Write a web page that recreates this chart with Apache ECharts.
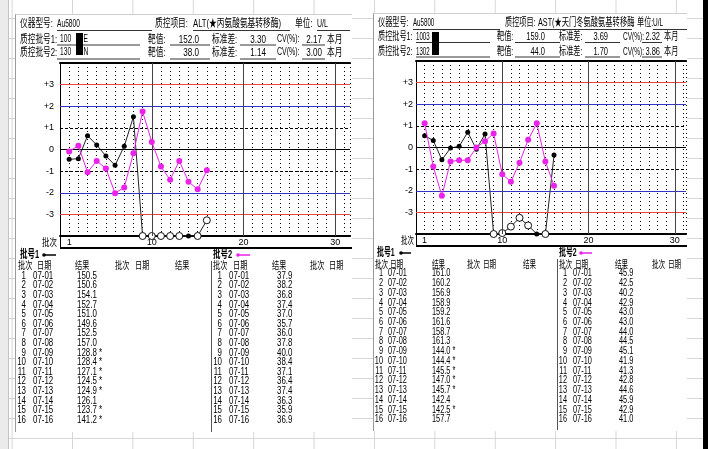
<!DOCTYPE html>
<html>
<head>
<meta charset="utf-8">
<script src="https://cdn.jsdelivr.net/npm/echarts@6.0.0/dist/echarts.min.js"></script>
<style>
html,body{margin:0;padding:0;width:708px;height:449px;overflow:hidden;background:#fff;}
#sheet{position:absolute;left:0;top:0;width:708px;height:449px;background-color:#fff;
 background-image:linear-gradient(to right,#d6d6d6 0,#d6d6d6 1px,transparent 1px),linear-gradient(to bottom,#d6d6d6 0,#d6d6d6 1px,transparent 1px);
 background-size:60.4px 100%,100% 20px;background-position:11.6px 0,0 -2px;}
#rowhdr{position:absolute;left:0;top:0;width:8px;height:449px;background:#ebebeb;border-right:1px solid #c4c4c4;}
#edge{position:absolute;left:703px;top:0;width:5px;height:449px;background:#000;}
.panel{position:absolute;background:#fff;box-sizing:border-box;border-left:1px solid #999;border-top:1px solid #cfcfcf;}
#chart{position:absolute;left:0;top:0;width:708px;height:449px;}
</style>
</head>
<body>
<div id="sheet"></div>
<div id="rowhdr"></div>
<div id="edge"></div>
<div class="panel" style="left:15px;top:14px;width:337px;height:418px;"></div>
<div class="panel" style="left:373px;top:13px;width:314px;height:418px;"></div>
<div id="chart"></div>
<script>
// ---- data ----
const batches = [1,2,3,4,5,6,7,8,9,10,11,12,13,14,15,16];
const dates = ['07-01','07-02','07-03','07-04','07-05','07-06','07-07','07-08','07-09','07-10','07-11','07-12','07-13','07-14','07-15','07-16'];
const xTickLabels = [1,10,20,30];
const sdLabels = ['+3','+2','+1','0','-1','-2','-3'];

// ALT panel
const altL1 = [150.5,150.6,154.1,152.7,151.0,149.6,152.5,157.0,128.8,128.4,127.1,124.5,124.9,126.1,123.7,141.2];
const altL1Flag = [0,0,0,0,0,0,0,0,1,1,1,1,1,0,1,1];
const altL2 = [37.9,38.2,36.8,37.4,37.0,35.7,36.0,37.8,40.0,38.4,37.1,36.4,37.4,36.3,35.9,36.9];
const altL2Flag = [0,0,0,0,0,0,0,0,0,0,0,0,0,0,0,0];
const altTarget = [152.0, 38.0];
const altSD = [3.30, 1.14];
const altCV = [2.17, 3.00];

// AST panel
const astL1 = [161.0,160.2,156.9,158.9,159.2,161.6,158.7,161.3,144.0,144.4,145.5,147.0,145.7,142.4,142.5,157.7];
const astL1Flag = [0,0,0,0,0,0,0,0,1,1,1,1,1,0,1,0];
const astL2 = [45.9,42.5,40.2,42.9,43.0,43.0,44.0,44.5,45.1,41.9,41.3,42.8,44.6,45.9,42.9,41.0];
const astL2Flag = [0,0,0,0,0,0,0,0,0,0,0,0,0,0,0,0];
const astTarget = [159.0, 44.0];
const astSD = [3.69, 1.70];
const astCV = [2.32, 3.86];

// ---- styling ----
const FONT = '"Liberation Sans","Noto Sans CJK SC",sans-serif';
const RED = '#e8453f', BLUE = '#3434c4', MAG = '#ea22ea', BLK = '#222';

function txt(x, y, s, size, sx, align, bold) {
  align = align || 'left';
  return {type:'text', x:x, y:y, scaleX:sx, z:10, silent:true,
    style:{text:s, fill:'#000', fontSize:size, fontFamily:FONT, fontWeight:bold?'bold':'normal',
      textAlign:align, align:align, textVerticalAlign:'middle', verticalAlign:'middle'}};
}
function ln(x1,y1,x2,y2,color,w,dash){
  const st = {stroke:color, lineWidth:w||1};
  if (dash) st.lineDash = dash;
  return {type:'line', z:10, silent:true, shape:{x1:x1,y1:y1,x2:x2,y2:y2}, style:st};
}

function zscore(v, target, sd){ return Math.max(-4, (v - target) / sd); }

function levelData(vals, flags, target, sd){
  return vals.map((v,i)=>{
    const item = {value:[batches[i], zscore(v, target, sd)]};
    if (flags[i]) {
      item.symbolSize = 7;
      item.itemStyle = {color:'#fff', borderColor:'#111', borderWidth:1};
    }
    return item;
  });
}

function axesFor(gi, xmax, labelMargin){
  const xs = [
    {gridIndex:gi, type:'value', min:0, max:xmax, interval:1, position:'bottom',
     axisLine:{show:true, onZero:false, lineStyle:{color:'#000', width:2}},
     axisTick:{show:false},
     axisLabel:{margin:2, fontSize:9, color:'#000', fontFamily:FONT,
       formatter:v=> xTickLabels.indexOf(v) >= 0 ? String(v) : ''},
     splitLine:{show:true, lineStyle:{color:'#000', width:1, type:[1,3]}}},
    {gridIndex:gi, type:'value', min:0, max:xmax, position:'top',
     axisLine:{show:true, onZero:false, lineStyle:{color:'#000', width:2}},
     axisTick:{show:false}, axisLabel:{show:false}, splitLine:{show:false}}
  ];
  const y = {gridIndex:gi, type:'value', min:-4, max:4, interval:1,
     axisLine:{show:true, onZero:false, lineStyle:{color:'#000', width:1}},
     axisTick:{show:false},
     axisLabel:{margin:labelMargin, fontSize:9, color:'#000', fontFamily:FONT,
       formatter:v=> (v >= 4 || v <= -4) ? '' : sdLabels[3 - v]},
     splitLine:{show:false}};
  return {xs:xs, y:y};
}

function seriesFor(gi, l1, f1, l2, f2, target, sd){
  const xi = gi*2;
  return [
    {type:'line', xAxisIndex:xi, yAxisIndex:gi, data:[], silent:true,
     markLine:{symbol:'none', silent:true, animation:false, label:{show:false},
       data:[
         {yAxis:3, lineStyle:{color:RED, type:'solid', width:1}},
         {yAxis:-3, lineStyle:{color:RED, type:'solid', width:1}},
         {yAxis:2, lineStyle:{color:BLUE, type:'solid', width:1}},
         {yAxis:-2, lineStyle:{color:BLUE, type:'solid', width:1}},
         {yAxis:1, lineStyle:{color:'#000', type:[3,2], width:1}},
         {yAxis:-1, lineStyle:{color:'#000', type:[3,2], width:1}},
         {yAxis:0, lineStyle:{color:'#000', type:'solid', width:1}},
         {xAxis:10, lineStyle:{color:'#444', type:'solid', width:1}},
         {xAxis:20, lineStyle:{color:'#444', type:'solid', width:1}},
         {xAxis:30, lineStyle:{color:'#444', type:'solid', width:1}}
       ]}},
    {type:'line', name:'批号1', xAxisIndex:xi, yAxisIndex:gi, clip:false,
     symbol:'circle', symbolSize:5, z:4,
     lineStyle:{color:BLK, width:1}, itemStyle:{color:'#000'},
     data:levelData(l1, f1, target[0], sd[0])},
    {type:'line', name:'批号2', xAxisIndex:xi, yAxisIndex:gi, clip:false,
     symbol:'circle', symbolSize:6, z:5,
     lineStyle:{color:MAG, width:1}, itemStyle:{color:MAG},
     data:levelData(l2, f2, target[1], sd[1])}
  ];
}

const A = axesFor(0, 31.6, 6);
const B = axesFor(1, 31.3, 3);

// ---- graphic (header, frames, tables) ----
const g = [];
function header(P){
  const s = P.sx;
  g.push(txt(P.x0, P.r1, '仪器型号:', 11, s));
  g.push(txt(P.model, P.r1, 'Au5800', 10, s*0.95));
  g.push(txt(P.item, P.r1, '质控项目:', 11, s));
  g.push(txt(P.itemV, P.r1, P.itemText, 11, P.itemSx));
  g.push(txt(P.unit, P.r1, '单位:', 11, s));
  g.push(txt(P.unitV, P.r1, 'U/L', 10, s));
  P.u1.forEach(u=>g.push(ln(u[0], P.u1y, u[1], P.u1y, '#333', 1)));
  [[P.r2, P.u2y, 0, '质控批号1:', P.lot1], [P.r3, P.u3y, 1, '质控批号2:', P.lot2]].forEach(r=>{
    const y = r[0], k = r[2];
    g.push(txt(P.x0, y, r[3], 11, s));
    g.push(txt(P.lotX, y, r[4][0], 10, s*0.95));
    if (r[4][1]) g.push(txt(P.lotTail, y, r[4][1], 10, s*0.95));
    g.push(txt(P.tg, y, '靶值:', 11, s));
    g.push(txt(P.tgV, y, P.target[k].toFixed(1), 11, s*1.05, 'right'));
    g.push(txt(P.sd, y, '标准差:', 11, s));
    g.push(txt(P.sdV, y, P.sdv[k].toFixed(2), 11, s*1.05, 'right'));
    g.push(txt(P.cv, y, 'CV(%):', 10, s));
    g.push(txt(P.cvV, y, P.cvv[k].toFixed(2), 11, s*1.05, 'right'));
    g.push(txt(P.month, y, '本月', 11, s));
    P.u2.forEach(u=>g.push(ln(u[0], r[1], u[1], r[1], '#333', 1)));
  });
  g.push({type:'rect', z:11, silent:true, shape:{x:P.box[0], y:P.box[1], width:P.box[2], height:P.box[3]}, style:{fill:'#000'}});
}
header({sx:0.7, x0:20, r1:24, r2:39.5, r3:52.5, model:57, item:155, itemV:193, itemText:'ALT(★丙氨酸氨基转移酶)', itemSx:0.7,
  unit:295, unitV:317, u1y:30.5, u1:[[57,152],[193,290],[317,350]],
  u2y:45, u3y:59, u2:[[57,140],[170,210],[240,276],[302,325]],
  lotX:60, lotTail:83.5, lot1:['100','E'], lot2:['130','N'],
  tg:148, tgV:199, sd:212, sdV:266, cv:277, cvV:322, month:327,
  target:altTarget, sdv:altSD, cvv:altCV, box:[76,33,7,22]});
header({sx:0.65, x0:378, r1:23, r2:37, r3:52, model:413, item:505, itemV:538, itemText:'AST(★天门冬氨酸氨基转移酶', itemSx:0.66,
  unit:637, unitV:653, u1y:29.5, u1:[[413,500],[538,632],[653,687]],
  u2y:42.5, u3y:57, u2:[[416,490],[515,560],[585,620],[642,662]],
  lotX:416, lotTail:null, lot1:['1003',''], lot2:['1302',''],
  tg:497, tgV:545, sd:559, sdV:608, cv:623, cvV:660, month:664,
  target:astTarget, sdv:astSD, cvv:astCV, box:[432,32,7,23]});

// plot bottom strips
g.push(ln(60.5,236,60.5,248,'#000',1));
g.push(ln(60,248,352,248,'#000',2));
g.push(txt(57,243,'批次',10,0.75,'right'));
g.push(ln(416.5,234,416.5,246,'#000',1));
g.push(ln(416,246,687,246,'#000',2));
g.push(txt(414,241,'批次',10,0.65,'right'));

// tables
function table(T){
  g.push(txt(T.leg1[0], T.legY, '批号1', 11, T.hs, 'left', true));
  g.push(ln(T.leg1[1], T.legY, T.leg1[2], T.legY, '#000', 1.5));
  g.push({type:'circle', z:11, silent:true, shape:{cx:T.leg1[1]+1, cy:T.legY, r:1.8}, style:{fill:'#000'}});
  g.push(txt(T.leg2[0], T.legY, '批号2', 11, T.hs, 'left', true));
  g.push(ln(T.leg2[1], T.legY, T.leg2[2], T.legY, MAG, 1.5));
  g.push({type:'circle', z:11, silent:true, shape:{cx:T.leg2[1]+1, cy:T.legY, r:1.8}, style:{fill:MAG}});
  const heads = ['批次','日期','结果','批次','日期','结果','批次','日期','结果','批次','日期'];
  T.hx.forEach((x,i)=>g.push(txt(x, T.hy, heads[i], 10.5, T.hs)));
  g.push(ln(T.sep+0.5, T.sepY[0], T.sep+0.5, T.sepY[1], '#555', 1));
  batches.forEach((b,i)=>{
    const y = T.y0 + T.dy*i;
    g.push(txt(T.c1[0], y, String(b), 11, T.ds, 'right'));
    g.push(txt(T.c1[1], y, dates[i], 11, T.ds));
    g.push(txt(T.c1[2], y, T.l1[i].toFixed(1) + (T.f1[i] ? ' *' : ''), 11, T.ds));
    g.push(txt(T.c2[0], y, String(b), 11, T.ds, 'right'));
    g.push(txt(T.c2[1], y, dates[i], 11, T.ds));
    g.push(txt(T.c2[2], y, T.l2[i].toFixed(1) + (T.f2[i] ? ' *' : ''), 11, T.ds));
  });
}
table({legY:255, leg1:[20,43,56], leg2:[213,237,250], hs:0.68, ds:0.72,
  hy:266, hx:[18,37,75,115,135,175,213,233,272,310,329],
  sep:211, sepY:[261,432], y0:275.7, dy:9.6,
  c1:[26,33,77], c2:[222,229,277], l1:altL1, f1:altL1Flag, l2:altL2, f2:altL2Flag});
table({legY:253, leg1:[377,400,411], leg2:[559,580,592], hs:0.63, ds:0.67,
  hy:265, hx:[375,390,432,467,483,523,559,575,615,652,668],
  sep:557, sepY:[259,430], y0:273.3, dy:9.73,
  c1:[383,388,432], c2:[567,573,619], l1:astL1, f1:astL1Flag, l2:astL2, f2:astL2Flag});

const option = {
  backgroundColor:'transparent',
  animation:false,
  grid:[
    {left:60, top:63, width:290, height:173, outerBoundsMode:'none', containLabel:false},
    {left:416, top:61, width:270, height:173, outerBoundsMode:'none', containLabel:false}
  ],
  xAxis:[A.xs[0], A.xs[1], B.xs[0], B.xs[1]],
  yAxis:[A.y, B.y],
  series:[].concat(
    seriesFor(0, altL1, altL1Flag, altL2, altL2Flag, altTarget, altSD),
    seriesFor(1, astL1, astL1Flag, astL2, astL2Flag, astTarget, astSD)
  ),
  graphic:{elements:g}
};

const chart = echarts.init(document.getElementById('chart'), null, {renderer:'canvas'});
chart.setOption(option);
</script>
</body>
</html>
